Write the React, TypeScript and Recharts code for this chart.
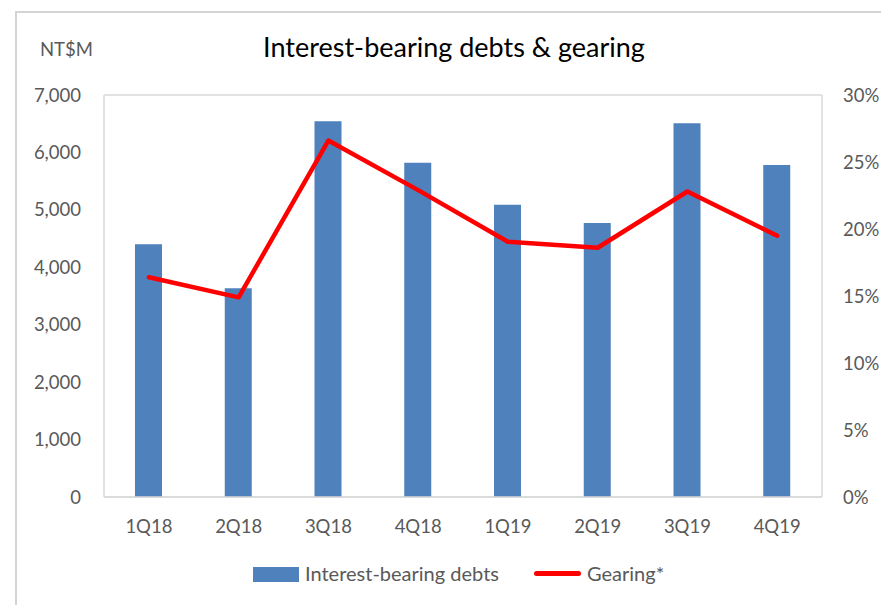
import React from 'react';
import { ComposedChart, Bar, Line, XAxis, YAxis, CartesianGrid } from 'recharts';

const quarters = ['1Q18', '2Q18', '3Q18', '4Q18', '1Q19', '2Q19', '3Q19', '4Q19'];
const debts = [4400, 3635, 6545, 5820, 5090, 4770, 6510, 5780];
const gearing = [16.4, 14.9, 26.6, 22.9, 19.05, 18.6, 22.8, 19.5];
const leftTicks = [0, 1000, 2000, 3000, 4000, 5000, 6000, 7000];
const rightTicks = [0, 5, 10, 15, 20, 25, 30];

const data = quarters.map((q, i) => ({ q, debts: debts[i], gearing: gearing[i] }));

const FONT = 'Lato, "Open Sans", sans-serif';
const GRAY = '#595959';
const GRID = '#d9d9d9';
const BLUE = '#4F81BD';
const RED = '#FF0000';

export default function App() {
  const tickStyle = { fill: GRAY, fontSize: 18.5, fontFamily: FONT };
  return (
    <div style={{ position: 'absolute', left: 0, top: 0, width: 881, height: 605, overflow: 'hidden', background: '#fff', fontFamily: FONT }}>
      <div style={{ position: 'absolute', left: 15, top: 11, width: 1000, height: 800, borderLeft: '2px solid #d4d4d4', borderTop: '2px solid #d4d4d4' }} />
      <div style={{ position: 'absolute', left: 0, top: 0 }}>
        <ComposedChart width={881} height={605} data={data} margin={{ top: 95, right: 0, bottom: 68, left: 44 }}>
          <CartesianGrid vertical={false} stroke={GRID} strokeWidth={1.5} />
          <XAxis
            dataKey="q"
            height={40}
            tickLine={false}
            tickSize={0}
            tickMargin={23}
            axisLine={{ stroke: GRID, strokeWidth: 1.5 }}
            tick={tickStyle}
            interval={0}
          />
          <YAxis
            yAxisId="left"
            width={60}
            domain={[0, 7000]}
            ticks={leftTicks}
            tickLine={false}
            tickSize={0}
            tickMargin={23}
            axisLine={{ stroke: GRID, strokeWidth: 1.5 }}
            tick={tickStyle}
            tickFormatter={(v: number) => v.toLocaleString('en-US')}
          />
          <YAxis
            yAxisId="right"
            orientation="right"
            width={59}
            domain={[0, 30]}
            ticks={rightTicks}
            tickLine={false}
            tickSize={0}
            tickMargin={21}
            axisLine={{ stroke: GRID, strokeWidth: 1.5 }}
            tick={tickStyle}
            tickFormatter={(v: number) => `${v}%`}
          />
          <Bar yAxisId="left" dataKey="debts" fill={BLUE} barSize={27} isAnimationActive={false} />
          <Line
            yAxisId="right"
            dataKey="gearing"
            type="linear"
            stroke={RED}
            strokeWidth={4.5}
            strokeLinejoin="round"
            strokeLinecap="round"
            dot={false}
            activeDot={false}
            isAnimationActive={false}
          />
        </ComposedChart>
      </div>
      <div style={{ position: 'absolute', left: 0, width: 908, top: 31.5, textAlign: 'center', fontSize: 27, color: '#000', lineHeight: '30px', whiteSpace: 'nowrap' }}>
        Interest-bearing debts &amp; gearing
      </div>
      <div style={{ position: 'absolute', left: 40, top: 37, fontSize: 18.5, color: GRAY, lineHeight: '24px' }}>NT$M</div>
      <div style={{ position: 'absolute', left: 253, top: 567, width: 46, height: 15, background: BLUE }} />
      <div style={{ position: 'absolute', left: 305, top: 561, fontSize: 20, color: GRAY, lineHeight: '24px', whiteSpace: 'nowrap' }}>Interest-bearing debts</div>
      <div style={{ position: 'absolute', left: 534, top: 571, width: 47, height: 5, borderRadius: 3, background: RED }} />
      <div style={{ position: 'absolute', left: 587, top: 561, fontSize: 20, color: GRAY, lineHeight: '24px', whiteSpace: 'nowrap' }}>Gearing*</div>
    </div>
  );
}
